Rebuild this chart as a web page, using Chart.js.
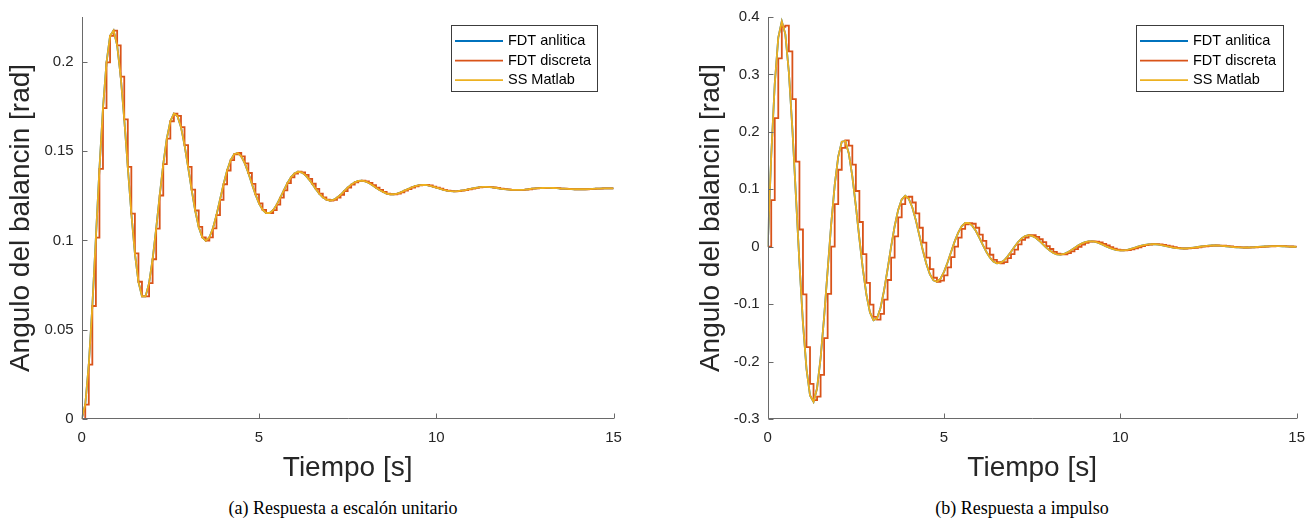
<!DOCTYPE html>
<html>
<head>
<meta charset="utf-8">
<script src="https://cdn.jsdelivr.net/npm/chart.js@4.4.0/dist/chart.umd.min.js"></script>
<style>
body{margin:0;background:#fff;width:1315px;height:523px;overflow:hidden;position:relative}
.caja{position:absolute;top:0;height:490px}
.pie{position:absolute;top:497px;width:400px;line-height:22px;font-size:18px;font-family:"Liberation Serif","Times New Roman",serif;color:#000;text-align:center;white-space:nowrap}
</style>
</head>
<body>
<div class="caja" style="left:0;width:657px"><canvas id="grafA"></canvas></div>
<div class="caja" style="left:657px;width:658px"><canvas id="grafB"></canvas></div>
<div class="pie" style="left:143px">(a) Respuesta a escalón unitario</div>
<div class="pie" style="left:822px">(b) Respuesta a impulso</div>
<script>
// muestreo cada 0.1 s, de 0 a 15 s
var tiempo = [];
for (var i = 0; i <= 150; i++) tiempo.push(+(i * 0.1).toFixed(1));

var series = ['FDT anlitica', 'FDT discreta', 'SS Matlab'];
var colores = ['#0072BD', '#D95319', '#EDB120'];

var ticksX = [0, 5, 10, 15];
var ticksEscalonY = [0, 0.05, 0.1, 0.15, 0.2];
var ticksImpulsoY = [-0.3, -0.2, -0.1, 0, 0.1, 0.2, 0.3, 0.4];

// (a) respuesta a escalon
var escalonAnalitica = [
  0, 0.0081, 0.0305, 0.0633, 0.1016, 0.1401, 0.1741, 0.1998, 0.2146, 0.2176,
  0.2093, 0.1918, 0.1679, 0.1412, 0.1151, 0.0928, 0.0769, 0.0687, 0.0687, 0.0761,
  0.0895, 0.1067, 0.1252, 0.1428, 0.1571, 0.1668, 0.1711, 0.1698, 0.1635, 0.1534,
  0.1412, 0.1285, 0.1168, 0.1076, 0.1018, 0.0999, 0.1017, 0.1068, 0.1142, 0.1228,
  0.1315, 0.1392, 0.1450, 0.1483, 0.1490, 0.1471, 0.1432, 0.1378, 0.1317, 0.1258,
  0.1208, 0.1172, 0.1154, 0.1154, 0.1170, 0.1201, 0.1240, 0.1281, 0.1321, 0.1354,
  0.1375, 0.1385, 0.1382, 0.1368, 0.1345, 0.1318, 0.1289, 0.1262, 0.1242, 0.1229,
  0.1224, 0.1228, 0.1240, 0.1256, 0.1276, 0.1296, 0.1313, 0.1326, 0.1334, 0.1335,
  0.1331, 0.1322, 0.1310, 0.1296, 0.1283, 0.1272, 0.1263, 0.1259, 0.1259, 0.1263,
  0.1270, 0.1279, 0.1288, 0.1297, 0.1304, 0.1309, 0.1311, 0.1311, 0.1308, 0.1302,
  0.1296, 0.1290, 0.1284, 0.1279, 0.1276, 0.1275, 0.1276, 0.1279, 0.1282, 0.1287,
  0.1291, 0.1295, 0.1298, 0.1300, 0.1300, 0.1299, 0.1297, 0.1294, 0.1291, 0.1288,
  0.1286, 0.1284, 0.1283, 0.1283, 0.1284, 0.1285, 0.1287, 0.1290, 0.1292, 0.1293,
  0.1294, 0.1295, 0.1295, 0.1294, 0.1293, 0.1291, 0.1290, 0.1289, 0.1288, 0.1287,
  0.1287, 0.1287, 0.1287, 0.1288, 0.1289, 0.1290, 0.1291, 0.1292, 0.1292, 0.1292,
  0.1292
];
// la escalera discreta toca la curva en cada muestra, y SS coincide con la analitica
var escalonDiscreta = escalonAnalitica;
var escalonSS = escalonAnalitica;

// (b) respuesta a impulso
var impulsoAnalitica = [
  0, 0.1581, 0.2838, 0.3640, 0.3926, 0.3702, 0.3039, 0.2051, 0.0890, -0.0286,
  -0.1331, -0.2126, -0.2592, -0.2700, -0.2464, -0.1942, -0.1221, -0.0409, 0.0388, 0.1073,
  0.1568, 0.1829, 0.1842, 0.1625, 0.1225, 0.0706, 0.0141, -0.0395, -0.0838, -0.1143,
  -0.1279, -0.1246, -0.1062, -0.0761, -0.0390, 0.0000, 0.0357, 0.0641, 0.0822, 0.0887,
  0.0836, 0.0687, 0.0463, 0.0201, -0.0065, -0.0301, -0.0480, -0.0586, -0.0610, -0.0557,
  -0.0439, -0.0276, -0.0092, 0.0088, 0.0242, 0.0354, 0.0413, 0.0416, 0.0367, 0.0277,
  0.0159, 0.0032, -0.0089, -0.0189, -0.0258, -0.0289, -0.0281, -0.0240, -0.0172, -0.0088,
  0.0000, 0.0081, 0.0145, 0.0186, 0.0200, 0.0189, 0.0155, 0.0105, 0.0045, -0.0015,
  -0.0068, -0.0109, -0.0132, -0.0138, -0.0126, -0.0099, -0.0062, -0.0021, 0.0020, 0.0055,
  0.0080, 0.0093, 0.0094, 0.0083, 0.0063, 0.0036, 0.0007, -0.0020, -0.0043, -0.0058,
  -0.0065, -0.0064, -0.0054, -0.0039, -0.0020, 0.0000, 0.0018, 0.0033, 0.0042, 0.0045,
  0.0043, 0.0035, 0.0024, 0.0010, -0.0003, -0.0015, -0.0025, -0.0030, -0.0031, -0.0028,
  -0.0022, -0.0014, -0.0005, 0.0004, 0.0012, 0.0018, 0.0021, 0.0021, 0.0019, 0.0014,
  0.0008, 0.0002, -0.0005, -0.0010, -0.0013, -0.0015, -0.0014, -0.0012, -0.0009, -0.0004,
  0.0000, 0.0004, 0.0007, 0.0009, 0.0010, 0.0010, 0.0008, 0.0005, 0.0002, -0.0001,
  -0.0003
];
var impulsoDiscreta = [
  0, 0.081, 0.224, 0.328, 0.383, 0.385, 0.340, 0.257, 0.148, 0.030,
  -0.083, -0.175, -0.239, -0.267, -0.261, -0.223, -0.159, -0.082, 0.000, 0.074,
  0.134, 0.172, 0.185, 0.176, 0.143, 0.097, 0.043, -0.013, -0.063, -0.101,
  -0.122, -0.127, -0.117, -0.092, -0.058, -0.019, 0.018, 0.051, 0.074, 0.086,
  0.087, 0.077, 0.058, 0.033, 0.007, -0.019, -0.039, -0.054, -0.061, -0.059,
  -0.050, -0.036, -0.018, 0.000, 0.016, 0.031, 0.039, 0.041, 0.040, 0.033,
  0.021, 0.010, -0.003, -0.014, -0.023, -0.027, -0.029, -0.027, -0.020, -0.013,
  -0.005, 0.004, 0.012, 0.016, 0.020, 0.020, 0.017, 0.013, 0.008, 0.001,
  -0.004, -0.0089, -0.0121, -0.0135, -0.0132, -0.0113, -0.0081, -0.0042, -0.0001, 0.0038,
  0.0068, 0.0087, 0.0094, 0.0089, 0.0073, 0.0050, 0.0022, -0.0007, -0.0032, -0.0051,
  -0.0062, -0.0065, -0.0059, -0.0047, -0.0030, -0.0010, 0.0009, 0.0026, 0.0038, 0.0044,
  0.0044, 0.0039, 0.0030, 0.0017, 0.0004, -0.0009, -0.0020, -0.0028, -0.0031, -0.0030,
  -0.0025, -0.0018, -0.0010, 0.0000, 0.0008, 0.0015, 0.0020, 0.0021, 0.0020, 0.0017,
  0.0011, 0.0005, -0.0002, -0.0008, -0.0012, -0.0014, -0.0015, -0.0013, -0.0011, -0.0007,
  -0.0002, 0.0002, 0.0006, 0.0008, 0.0010, 0.0010, 0.0009, 0.0007, 0.0004, 0.0001,
  -0.0002
];
var impulsoSS = impulsoAnalitica;

Chart.defaults.font.family = "'Liberation Sans', Arial, Helvetica, sans-serif";
Chart.defaults.color = '#262626';

function puntos(valores){
    return tiempo.map(function(t, i){ return {x: t, y: valores[i]}; });
}

// ejes estilo matlab: solo izquierda y abajo, ticks hacia dentro, leyenda en caja
var ejesMatlab = {
    id: 'ejesMatlab',
    afterDraw: function(chart, args, opts){
        var ctx = chart.ctx, a = chart.chartArea;
        var sx = chart.scales.x, sy = chart.scales.y;
        var x0 = Math.round(a.left) + 0.5, y0 = Math.round(a.bottom) - 0.5;
        ctx.save();
        ctx.strokeStyle = '#6a6a6a';
        ctx.lineWidth = 1;
        ctx.beginPath();
        ctx.moveTo(x0, Math.round(a.top));
        ctx.lineTo(x0, y0);
        ctx.lineTo(Math.round(a.right), y0);
        sx.ticks.forEach(function(t){
            var px = Math.round(sx.getPixelForValue(t.value)) + 0.5;
            ctx.moveTo(px, y0); ctx.lineTo(px, y0 - 5);
        });
        sy.ticks.forEach(function(t){
            var py = Math.round(sy.getPixelForValue(t.value)) + 0.5;
            ctx.moveTo(x0, py); ctx.lineTo(x0 + 5, py);
        });
        ctx.stroke();

        // leyenda
        var bx = opts.x, by = opts.y;
        ctx.fillStyle = '#fff';
        ctx.fillRect(bx, by, opts.w, opts.h);
        ctx.strokeStyle = '#3c3c3c';
        ctx.strokeRect(bx + 0.5, by + 0.5, opts.w, opts.h);
        ctx.font = "14.5px 'Liberation Sans', Arial, sans-serif";
        ctx.textBaseline = 'middle';
        ctx.textAlign = 'left';
        chart.data.datasets.forEach(function(ds, k){
            var yy = by + 16 + k * 19.6;
            ctx.strokeStyle = ds.borderColor;
            ctx.lineWidth = 1.8;
            ctx.beginPath();
            ctx.moveTo(bx + 4, yy); ctx.lineTo(bx + 52, yy);
            ctx.stroke();
            ctx.fillStyle = '#000';
            ctx.fillText(ds.label, bx + 57, yy);
        });
        ctx.restore();
    }
};

function crearGrafico(id, valores, ymin, ymax, ticksY, o){
    var orden = [2, 1, 0];
    return new Chart(document.getElementById(id), {
        type: 'line',
        data: {
            datasets: series.map(function(nombre, k){
                return {
                    label: nombre,
                    data: puntos(valores[k]),
                    borderColor: colores[k],
                    backgroundColor: colores[k],
                    borderWidth: 1.8,
                    pointRadius: 0,
                    fill: false,
                    tension: 0,
                    stepped: k === 1,
                    order: orden[k]
                };
            })
        },
        options: {
            responsive: true,
            maintainAspectRatio: false,
            animation: false,
            layout: {padding: {top: o.top, right: o.right, left: 0, bottom: 0}},
            plugins: {
                legend: {display: false},
                tooltip: {enabled: false},
                ejesMatlab: o.leyenda
            },
            scales: {
                x: {
                    type: 'linear',
                    min: 0,
                    max: 15,
                    grid: {display: false, drawTicks: false},
                    border: {display: false},
                    afterBuildTicks: function(s){ s.ticks = ticksX.map(function(v){ return {value: v}; }); },
                    afterFit: function(s){ s.height = 71; },
                    ticks: {font: {size: 15}, padding: 10, maxRotation: 0, color: '#262626',
                        callback: function(v){ return String(v); }},
                    title: {display: true, text: 'Tiempo [s]', font: {size: 28}, color: '#262626',
                        padding: {top: 0, bottom: 5}}
                },
                y: {
                    type: 'linear',
                    min: ymin,
                    max: ymax,
                    grid: {display: false, drawTicks: false},
                    border: {display: false},
                    afterBuildTicks: function(s){ s.ticks = ticksY.map(function(v){ return {value: v}; }); },
                    afterFit: function(s){ s.width = o.ancho; },
                    ticks: {font: {size: 15}, padding: 8, color: '#262626',
                        callback: function(v){ return String(+v.toFixed(3)); }},
                    title: {display: true, text: 'Angulo del balancin [rad]', font: {size: 28}, color: '#262626',
                        padding: {top: o.titulo, bottom: 0}}
                }
            }
        },
        plugins: [ejesMatlab]
    });
}

crearGrafico('grafA', [escalonAnalitica, escalonDiscreta, escalonSS], 0, 0.2252, ticksEscalonY,
    {top: 10, right: 43.4, ancho: 81.7, titulo: 4, leyenda: {x: 451, y: 25, w: 146, h: 66}});
crearGrafico('grafB', [impulsoAnalitica, impulsoDiscreta, impulsoSS], -0.3, 0.4, ticksImpulsoY,
    {top: 10.7, right: 18.3, ancho: 110.7, titulo: 37, leyenda: {x: 479, y: 25, w: 147, h: 66}});
</script>
</body>
</html>
